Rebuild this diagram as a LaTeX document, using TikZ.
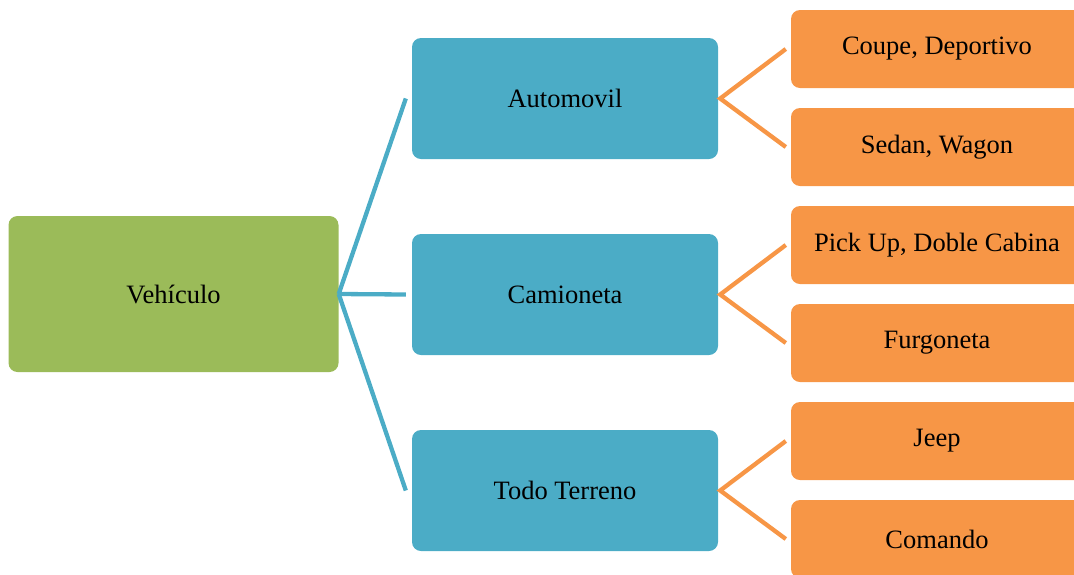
\documentclass[tikz,border=0pt]{standalone}
\usepackage{fontspec}
\setmainfont{Liberation Serif}
\definecolor{cgreen}{HTML}{9BBB59}
\definecolor{cblue}{HTML}{4BACC6}
\definecolor{corange}{HTML}{F79646}
\begin{document}
\begin{tikzpicture}[x=1pt,y=-1pt,
  box/.style={rounded corners=9pt,inner sep=0pt,align=center,font=\fontsize{26.5}{31}\selectfont},
  gbox/.style={box,fill=cgreen,minimum width=330pt,minimum height=156pt},
  bbox/.style={box,fill=cblue,minimum width=306pt,minimum height=121pt},
  obox/.style={box,fill=corange,minimum width=292pt,minimum height=78pt},
  bline/.style={draw=cblue,line width=4.3pt},
  oline/.style={draw=corange,line width=4.3pt}]
\useasboundingbox (0,0) rectangle (1074,574);
\clip (0,0) rectangle (1074,574);
\node[gbox] (veh) at (173.5,294) {Vehículo};
\node[bbox] (auto) at (565,98.5) {Automovil};
\node[bbox] (cam) at (565,294.5) {Camioneta};
\node[bbox] (todo) at (565,490.5) {Todo Terreno};
\node[obox] (o1) at (937,49) {Coupe, Deportivo};
\node[obox] (o2) at (937,147) {Sedan, Wagon};
\node[obox] (o3) at (937,245) {Pick Up, Doble Cabina};
\node[obox] (o4) at (937,343) {Furgoneta};
\node[obox] (o5) at (937,441) {Jeep};
\node[obox] (o6) at (937,539) {Comando};
\coordinate (a1) at ([xshift=-6pt]auto.west);
\coordinate (a2) at ([xshift=-6pt]cam.west);
\coordinate (a3) at ([xshift=-6pt]todo.west);
\draw[bline] (veh.east) -- (a1);
\draw[bline] (veh.east) -- (a2);
\draw[bline] (veh.east) -- (a3);
\foreach \p/\a/\b in {auto/o1/o2,cam/o3/o4,todo/o5/o6}{
  \coordinate (s-\p) at ([xshift=2pt]\p.east);
  \coordinate (e-\a) at ([xshift=-5pt]\a.west);
  \coordinate (e-\b) at ([xshift=-5pt]\b.west);
  \draw[oline] (e-\a) -- (s-\p) -- (e-\b);
}
\end{tikzpicture}
\end{document}
